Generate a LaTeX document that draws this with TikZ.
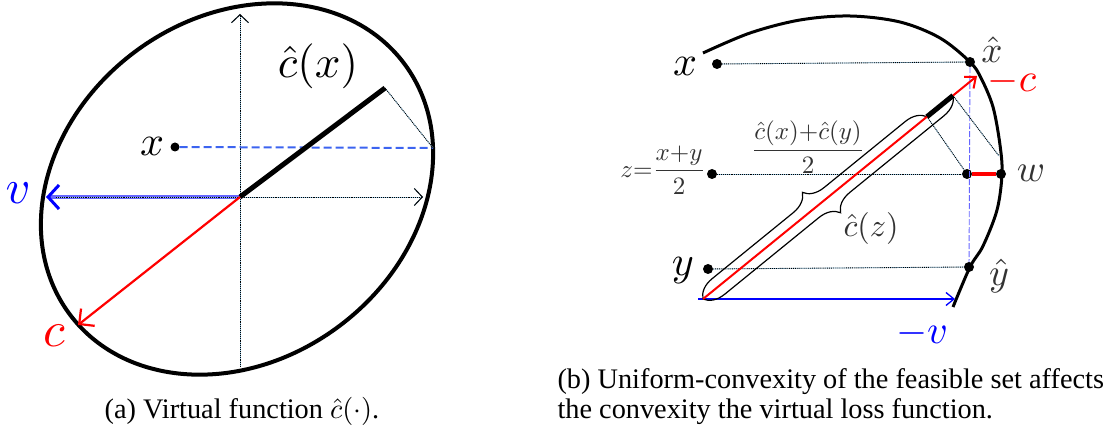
\documentclass[tikz,border=0pt]{standalone}
\usepackage{fontspec}
\setmainfont{Liberation Serif}
\usetikzlibrary{arrows.meta,decorations.pathreplacing,calc}
\definecolor{dashblue}{RGB}{60,100,240}
\definecolor{lightguide}{RGB}{150,200,230}
\begin{document}
\begin{tikzpicture}[x=1pt,y=-1pt,
  guide/.style={draw=black, densely dotted, line width=0.9pt,
    preaction={draw=lightguide, solid, line width=0.7pt}},
  dot/.style={circle, fill=black, inner sep=0pt, minimum size=10pt},
  lbl/.style={inner sep=0pt, font=\fontsize{10}{12}\selectfont},
  gtip/.style={-{Straight Barb[length=8pt,width=17pt,line width=1pt]}},
  brc/.style={draw=black, line width=1.2pt, decorate, decoration={brace, amplitude=20pt}},
  captext/.style={inner sep=0pt, font=\fontsize{10}{12}\selectfont, scale=2.83},
]
\useasboundingbox (0,0) rectangle (1110,435);

% ---------------- left panel ----------------
\coordinate (O) at (240,197);
\coordinate (ce) at (385,88);
\coordinate (xs) at (433,148);
\coordinate (vt) at (46,197);
\coordinate (ct) at (78,325);
\coordinate (axb) at (240,367);
\coordinate (axt) at (240,14);
\coordinate (axr) at (423,197);
\coordinate (axl) at (56,197);

\draw[line width=4pt, rotate around={37:(237,189)}] (237,189) ellipse [x radius=209, y radius=171];

\draw[guide, gtip] (axb) -- (axt);
\draw[line width=4pt, blue!60, -{Straight Barb[color=blue, length=11pt, width=24pt, line width=3pt]}] (O) -- (vt);
\draw[guide, gtip] (axl) -- (axr);

\node[dot, minimum size=9pt] (xl) at (175,147) {};
\draw[dashblue, line width=2pt, dash pattern=on 8pt off 4pt] (xl) -- (xs);
\draw[guide] (ce) -- (xs);
\draw[line width=5pt] (O) -- (ce);
\draw[red, line width=2.2pt, -{Straight Barb[length=11pt, width=22pt, line width=2.2pt]}] (O) -- (ct);

\node[lbl, scale=4.2] (lx) at (152,146) {$x$};
\node[lbl, scale=4.5] (lch) at (318,66) {$\hat{c}(x)$};
\node[lbl, scale=4.8, text=blue] (lv) at (18,193) {$v$};
\node[lbl, scale=5.0, text=red] (lc) at (54,336) {$c$};

% ---------------- right panel ----------------
\coordinate (Or) at (703,299);
\coordinate (Tr) at (977,76);
\coordinate (P1) at ($(Or)!0.8175!(Tr)$);
\coordinate (P2) at ($(Or)!0.9124!(Tr)$);
\coordinate (A) at (999,156);
\coordinate (vs) at (698,299);
\coordinate (ve) at (955,299);

\node[dot] (xr) at (717,64) {};
\node[dot] (xh) at (970,62) {};
\node[dot] (zr) at (712,174) {};
\node[dot] (wi) at (967,174) {};
\node[dot] (wr) at (1001,174) {};
\node[dot] (yr) at (708,269) {};
\node[dot] (yh) at (969,267) {};

\draw[line width=3pt] plot[smooth, tension=0.55] coordinates {(703,53) (750,33) (800,20) (850,16) (900,22) (940,38) (970,62) (981,78) (993,107) (1000,145) (1002,174) (997,210) (983,246) (970,267) (953,307)};

\draw[guide] (xr) -- (xh);
\draw[guide] (zr) -- (wi);
\draw[guide] (yr) -- (yh);
\draw[blue!60, line width=0.9pt, dash pattern=on 6pt off 2pt] (xh) -- (yh);
\draw[guide] (P2) -- (A);
\draw[guide] (P1) -- (wi);
\draw[red, line width=4pt] (wi) -- (wr);

\draw[blue, line width=1.3pt, -{Straight Barb[length=8pt, width=13pt, line width=1.3pt]}] (vs) -- (ve);
\draw[brc] (Or) -- (P1);
\draw[brc] (P2) -- (Or);
\draw[red, line width=2pt, -{Straight Barb[length=9pt, width=15pt, line width=2pt]}] (Or) -- (Tr);
\draw[line width=5pt] (P1) -- (P2);

\node[lbl, scale=4.2] (rx) at (685,66) {$x$};
\node[lbl, scale=3.7, text=black!80] (rxh) at (992,50) {$\hat{x}$};
\node[lbl, scale=4.0, text=red] (rc) at (1012,82) {$-c$};
\node[lbl, scale=3.8, text=black!80] (rw) at (1031,173) {$w$};
\node[lbl, scale=4.2] (ry) at (683,271) {$y$};
\node[lbl, scale=3.8, text=black!80] (ryh) at (999,276) {$\hat{y}$};
\node[lbl, scale=4.0, text=blue] (rv) at (922,333) {$-v$};
\node[lbl, scale=2.5, text=black!80, anchor=east] (rz) at (706,170) {$z{=}{\displaystyle\frac{x{+}y}{2}}$};
\node[lbl, scale=2.5, text=black!80] (rf) at (808,147) {$\displaystyle\frac{\hat{c}(x){+}\hat{c}(y)}{2}$};
\node[lbl, scale=3.2, text=black!80] (rcz) at (871,229) {$\hat{c}(z)$};

% ---------------- captions ----------------
\node[captext, anchor=base] (capa) at (242,418) {(a) Virtual function $\hat{c}(\cdot)$.};
\node[captext, anchor=base west] (capb1) at (557,388) {(b) Uniform-convexity of the feasible set affects};
\node[captext, anchor=base west] (capb2) at (557,418) {the convexity the virtual loss function.};
\end{tikzpicture}
\end{document}
